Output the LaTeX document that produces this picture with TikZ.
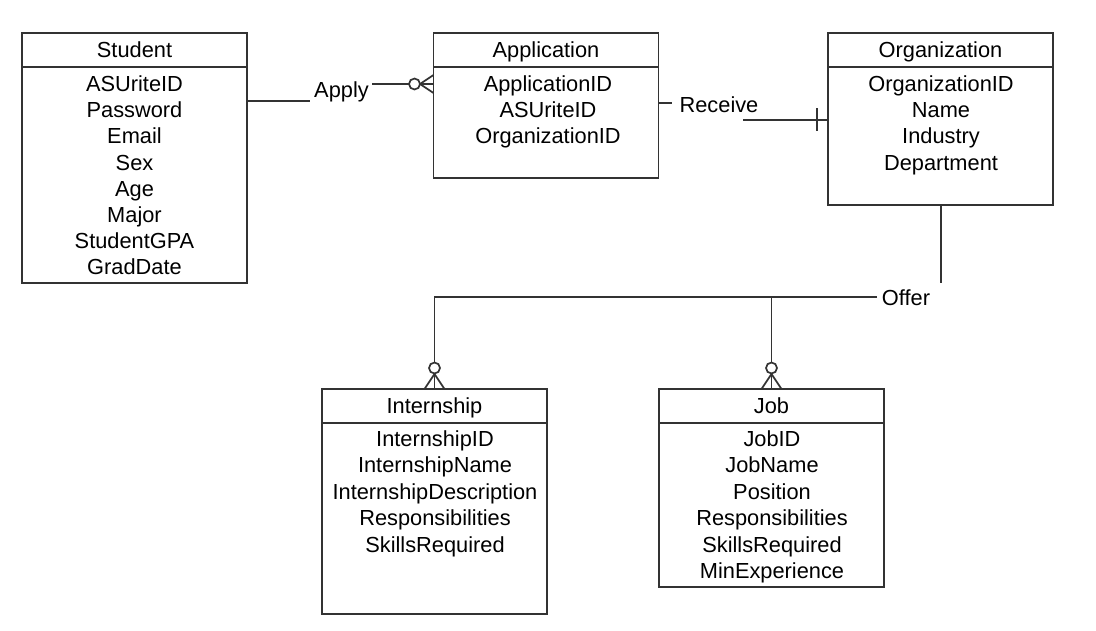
\documentclass[tikz,border=0pt]{standalone}
\usepackage{fontspec}
\setmainfont{Liberation Sans}
\usetikzlibrary{calc}
\begin{document}
\begin{tikzpicture}[x=1pt,y=-1pt]
\tikzset{
 ln/.style={line width=1.7pt, draw=black!80},
 entity/.style={ln, rectangle, inner sep=0pt, outer sep=0pt, minimum width=225pt},
 txt/.style={font=\fontsize{21.8}{25}\selectfont, anchor=base, inner sep=0pt},
 lbl/.style={font=\fontsize{21.8}{25}\selectfont, anchor=base, inner sep=0pt},
 ring/.style={ln, fill=white},
}
\useasboundingbox (0,0) rectangle (1096,630);
% entities
\node[entity, minimum height=250pt] (stu) at (134.5,158) {};
\node[entity, minimum height=145pt] (app) at (546,105.5) {};
\node[entity, minimum height=172pt] (org) at (940.5,119) {};
\node[entity, minimum height=225pt] (int) at (434.5,501.5) {};
\node[entity, minimum height=198pt] (job) at (771.5,488) {};
% dividers
\foreach \e in {stu,app,org} \draw[ln] (\e.west |- 0,67) -- (\e.east |- 0,67);
\foreach \e in {int,job} \draw[ln] (\e.west |- 0,423) -- (\e.east |- 0,423);
% headers
\node[txt] (stuH) at (134.5,57.5) {Student};
\node[txt] (appH) at (546,57.5) {Application};
\node[txt] (orgH) at (940.5,57.5) {Organization};
\node[txt] (intH) at (434.5,413.5) {Internship};
\node[txt] (jobH) at (771.5,413.5) {Job};
% attributes
\foreach \t [count=\i] in {ASUriteID,Password,Email,Sex,Age,Major,StudentGPA,GradDate}
  \node[txt] (stu-\i) at (134.5,{91.5+26.2*(\i-1)}) {\t};
\foreach \t [count=\i] in {ApplicationID,ASUriteID,OrganizationID}
  \node[txt] (app-\i) at (548,{91.5+26.2*(\i-1)}) {\t};
\foreach \t [count=\i] in {OrganizationID,Name,Industry,Department}
  \node[txt] (org-\i) at (941,{91.5+26.2*(\i-1)}) {\t};
\foreach \t [count=\i] in {InternshipID,InternshipName,InternshipDescription,Responsibilities,SkillsRequired}
  \node[txt] (int-\i) at (435,{446.5+26.4*(\i-1)}) {\t};
\foreach \t [count=\i] in {JobID,JobName,Position,Responsibilities,SkillsRequired,MinExperience}
  \node[txt] (job-\i) at (772,{446.5+26.4*(\i-1)}) {\t};
% Apply
\node[lbl] (apply) at (341.5,97.7) {Apply};
\coordinate (apA) at (310,101);
\coordinate (apB) at (372,84);
\draw[ln] (stu.east |- apA) -- (apA);
\draw[ln] (apB) -- (app.west |- apB);
\draw[ln] (420,84) -- (app.west |- 0,75);
\draw[ln] (420,84) -- (app.west |- 0,93);
\draw[ring] (414.5,84) circle (5.5pt);
% Receive
\node[lbl] (receive) at (719,112.3) {Receive};
\coordinate (rcA) at (672,103);
\coordinate (rcB) at (743,120);
\draw[ln] (app.east |- rcA) -- (rcA);
\draw[ln] (rcB) -- (org.west |- rcB);
\draw[ln] (817,108) -- (817,131);
% Offer
\node[lbl] (offer) at (906,305) {Offer};
\coordinate (ofT) at (941,283);
\coordinate (ofL) at (877,297);
\draw[ln, line width=2.6pt] (org.south -| ofT) -- (ofT);
\draw[ln] (ofL) -- (int.north |- ofL) -- (int.north);
\draw[ln] (job.north |- ofL) -- (job.north);
\foreach \e in {int,job} {
  \draw[ln] ($(\e.north)+(0,-15)$) -- ($(\e.north)+(-10,0)$);
  \draw[ln] ($(\e.north)+(0,-15)$) -- ($(\e.north)+(10,0)$);
  \draw[ring] ($(\e.north)+(0,-21)$) circle (5.5pt);
}
\end{tikzpicture}
\end{document}
